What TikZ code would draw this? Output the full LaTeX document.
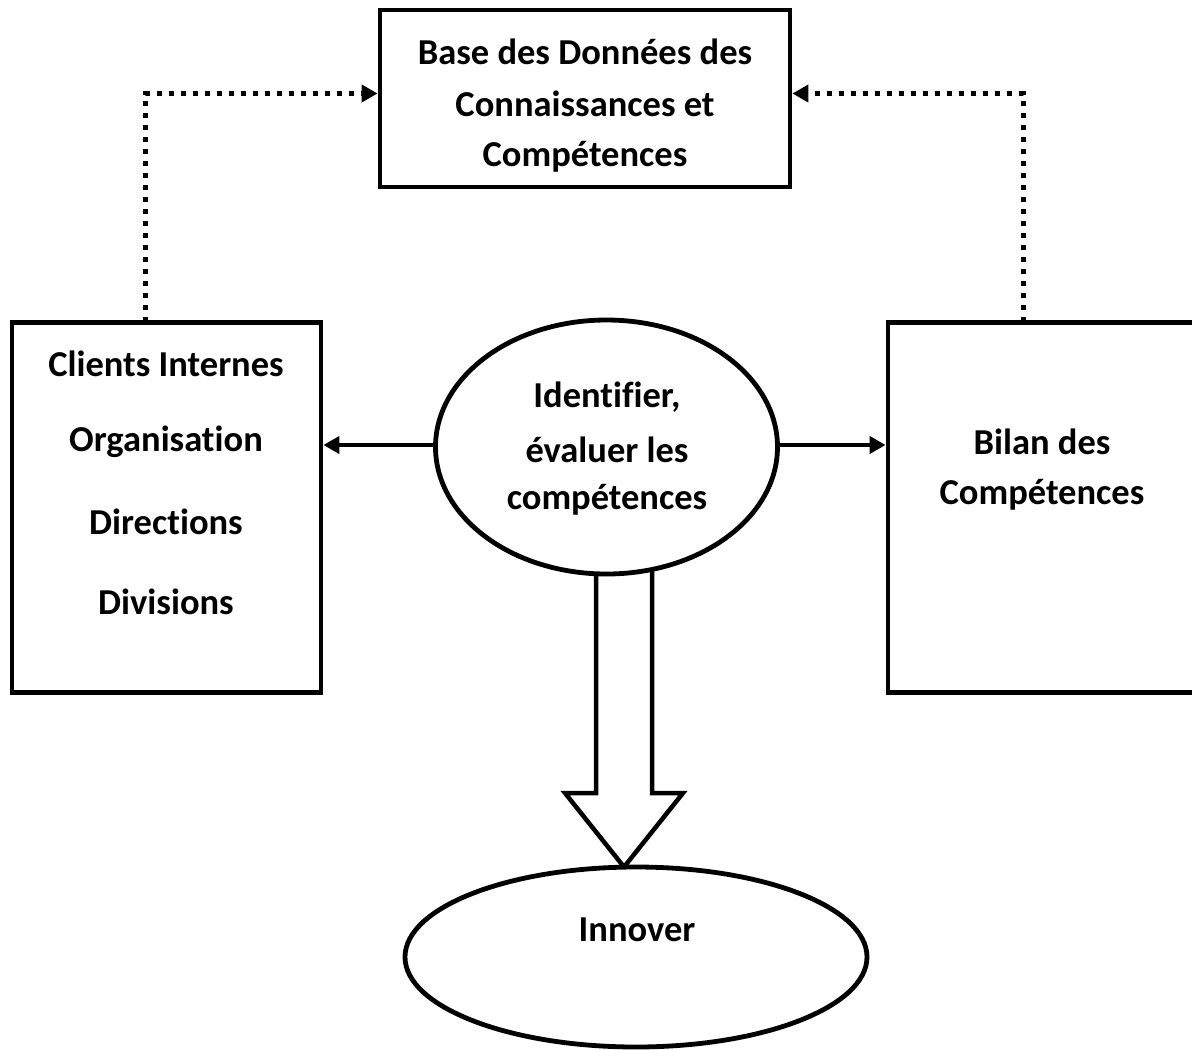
\documentclass[tikz,border=0pt]{standalone}
\usepackage{fontspec}
\setmainfont{Carlito}[RawFeature={-liga;-dlig;-clig}]
\usetikzlibrary{arrows.meta,shapes.geometric,calc}
\begin{document}
\begin{tikzpicture}[x=1pt,y=-1pt,
  every node/.style={font=\fontsize{36.5}{50}\selectfont\bfseries, align=center, inner sep=0pt},
  boxstyle/.style={draw, line width=4.8pt, rectangle},
  ellstyle/.style={draw, line width=4.8pt, ellipse, fill=white},
  dotline/.style={line width=5pt, dash pattern=on 5pt off 7pt, -{Triangle[length=16pt,width=17pt]}},
  solidarrow/.style={line width=4.5pt, -{Triangle[length=16pt,width=17pt]}},
  blockarrow/.style={line width=4.5pt, fill=white, line join=miter}]
\useasboundingbox (0,0) rectangle (1192,1050);
% top box
\node[boxstyle, minimum width=410, minimum height=177] (base) at (585,98.5) {};
\node at (585,52) {Base des Données des};
\node at (585,104) {Connaissances et};
\node at (585,157) {Compétences};
% left box
\node[boxstyle, minimum width=309, minimum height=370] (clients) at (166.5,507.5) {};
\node at (166,364) {Clients Internes};
\node at (166,442) {Organisation};
\node at (166,522) {Directions};
\node at (166,602) {Divisions};
% right box (right edge lies beyond the page)
\node[boxstyle, minimum width=318, minimum height=370] (bilan) at (1047,507.5) {};
\node at (1042,442) {Bilan des};
\node at (1042,495) {Compétences};
% block arrow (drawn before ellipse)
\draw[blockarrow] (596,560) -- (596,793) -- (565,793) -- (624,867) -- (683,793) -- (652,793) -- (652,560) -- cycle;
% central ellipse
\node[ellstyle, minimum width=342, minimum height=254] (ident) at (606.5,447) {};
\node at (607,397) {Identifier,};
\node at (607,450) {évaluer les};
\node at (607,500) {compétences};
% innover
\node[ellstyle, minimum width=462, minimum height=180] (innover) at (636,957) {};
\node at (637,930) {Innover};
% connectors
\draw[solidarrow] (ident.west |- 0,445) -- (clients.east |- 0,445);
\draw[solidarrow] (ident.east |- 0,445) -- (bilan.west |- 0,445);
\coordinate (cl) at (145,322);
\coordinate (br) at (1023,322);
\draw[dotline] (cl) |- ($(base.west)+(0,-5)$);
\draw[dotline] (br) |- ($(base.east)+(0,-5)$);
\end{tikzpicture}
\end{document}
